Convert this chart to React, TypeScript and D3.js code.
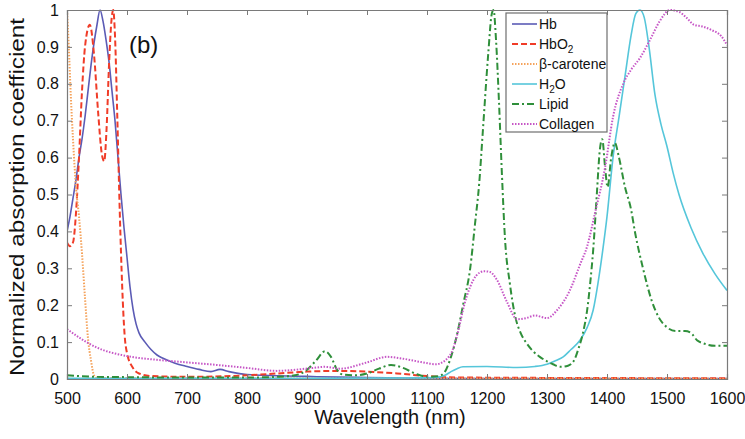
import React, { useRef, useEffect } from 'react';
import * as d3 from 'd3';

// [wavelength nm, normalized absorption]
const hb: [number, number][] = [
  [500, 0.40], [505, 0.44], [510, 0.49], [515, 0.54], [520, 0.60], [525, 0.65], [530, 0.71],
  [535, 0.78], [540, 0.85], [545, 0.91], [550, 0.96], [555, 1.0], [560, 0.97], [565, 0.92],
  [570, 0.86], [575, 0.78], [580, 0.70], [585, 0.60], [590, 0.50], [595, 0.41], [600, 0.33],
  [605, 0.25], [610, 0.19], [615, 0.15], [620, 0.125], [630, 0.10], [640, 0.08], [650, 0.065],
  [660, 0.056], [680, 0.043], [700, 0.034], [720, 0.026], [740, 0.02], [755, 0.026], [770, 0.02],
  [790, 0.014], [800, 0.012], [850, 0.009], [900, 0.007], [950, 0.005], [1000, 0.004],
  [1100, 0.002], [1200, 0.001], [1600, 0.001],
];

const hbo2: [number, number][] = [
  [500, 0.37], [505, 0.36], [510, 0.37], [515, 0.45], [520, 0.60], [525, 0.78], [530, 0.90],
  [538, 0.96], [545, 0.88], [552, 0.72], [558, 0.61], [562, 0.59], [566, 0.68], [570, 0.85],
  [574, 0.97], [577, 1.0], [580, 0.93], [584, 0.70], [588, 0.45], [592, 0.25], [596, 0.12],
  [600, 0.07], [610, 0.03], [620, 0.015], [640, 0.008], [700, 0.006], [800, 0.01], [850, 0.015],
  [900, 0.02], [950, 0.022], [1000, 0.02], [1050, 0.015], [1100, 0.008], [1150, 0.004],
  [1600, 0.002],
];

const carotene: [number, number][] = [
  [500, 1.0], [503, 0.9], [506, 0.78], [510, 0.65], [515, 0.52], [520, 0.44], [525, 0.34],
  [530, 0.22], [535, 0.11], [540, 0.05], [545, 0.01], [550, 0.003], [700, 0.002], [1600, 0.001],
];

const water: [number, number][] = [
  [500, 0.002], [900, 0.002], [1100, 0.003], [1120, 0.005], [1130, 0.01], [1140, 0.02],
  [1150, 0.028], [1160, 0.033], [1200, 0.034], [1250, 0.031], [1280, 0.034], [1300, 0.04],
  [1315, 0.05], [1327, 0.06], [1340, 0.08], [1355, 0.105], [1367, 0.14], [1377, 0.187],
  [1385, 0.26], [1393, 0.35], [1400, 0.44], [1410, 0.6], [1420, 0.71], [1430, 0.82],
  [1440, 0.93], [1448, 0.99], [1455, 1.0], [1462, 0.98], [1470, 0.9], [1480, 0.77], [1490, 0.69],
  [1500, 0.63], [1510, 0.56], [1520, 0.50], [1540, 0.41], [1560, 0.34], [1580, 0.285],
  [1600, 0.24],
];

const lipid: [number, number][] = [
  [500, 0.01], [550, 0.006], [600, 0.005], [700, 0.004], [800, 0.004], [850, 0.006],
  [880, 0.01], [900, 0.025], [915, 0.05], [930, 0.075], [940, 0.06], [950, 0.025], [960, 0.012],
  [980, 0.01], [1000, 0.015], [1020, 0.028], [1040, 0.038], [1060, 0.03], [1080, 0.015],
  [1100, 0.006], [1120, 0.008], [1130, 0.02], [1140, 0.06], [1150, 0.12], [1160, 0.2],
  [1172, 0.3], [1180, 0.42], [1187, 0.53], [1193, 0.67], [1202, 0.88], [1208, 0.99], [1211, 1.0],
  [1215, 0.92], [1220, 0.75], [1225, 0.55], [1230, 0.38], [1238, 0.26], [1247, 0.17],
  [1256, 0.125], [1266, 0.097], [1277, 0.075], [1288, 0.06], [1300, 0.048], [1310, 0.04],
  [1322, 0.033], [1335, 0.036], [1345, 0.05], [1352, 0.08], [1360, 0.125], [1368, 0.2],
  [1372, 0.26], [1377, 0.35], [1383, 0.5], [1388, 0.62], [1392, 0.65], [1397, 0.57],
  [1401, 0.52], [1407, 0.6], [1413, 0.64], [1420, 0.6], [1430, 0.52], [1440, 0.46],
  [1447, 0.395], [1460, 0.3], [1475, 0.21], [1487, 0.165], [1500, 0.14], [1515, 0.13],
  [1530, 0.13], [1540, 0.125], [1550, 0.105], [1560, 0.097], [1580, 0.09], [1600, 0.09],
];

const collagen: [number, number][] = [
  [500, 0.135], [550, 0.085], [600, 0.062], [650, 0.052], [700, 0.045], [750, 0.038],
  [800, 0.03], [850, 0.022], [880, 0.025], [910, 0.03], [930, 0.033], [955, 0.028],
  [1000, 0.045], [1033, 0.06], [1060, 0.055], [1090, 0.046], [1115, 0.04], [1130, 0.05],
  [1143, 0.08], [1152, 0.13], [1162, 0.2], [1172, 0.25], [1182, 0.28], [1195, 0.292],
  [1205, 0.29], [1216, 0.27], [1233, 0.21], [1250, 0.162], [1265, 0.165], [1280, 0.172],
  [1300, 0.165], [1317, 0.187], [1338, 0.24], [1355, 0.31], [1367, 0.36], [1380, 0.45],
  [1397, 0.575], [1410, 0.71], [1427, 0.8], [1441, 0.84], [1455, 0.87], [1472, 0.92],
  [1488, 0.97], [1505, 1.0], [1520, 0.995], [1532, 0.98], [1545, 0.96], [1560, 0.955],
  [1575, 0.945], [1590, 0.93], [1600, 0.905],
];

const xTicks = [500, 600, 700, 800, 900, 1000, 1100, 1200, 1300, 1400, 1500, 1600];
const yTicks = [0, 0.1, 0.2, 0.3, 0.4, 0.5, 0.6, 0.7, 0.8, 0.9, 1];

const series = [
  { name: 'Hb', data: hb, color: '#5b5bb5', width: 1.6, dash: null },
  { name: 'HbO2', data: hbo2, color: '#f03c28', width: 2, dash: '6,3' },
  { name: 'β-carotene', data: carotene, color: '#f5a35c', width: 2, dash: '1.5,1.5' },
  { name: 'H2O', data: water, color: '#55c6da', width: 1.6, dash: null },
  { name: 'Lipid', data: lipid, color: '#2f8f3a', width: 2, dash: '7,3,2,3' },
  { name: 'Collagen', data: collagen, color: '#c656c6', width: 2, dash: '1.5,1.5' },
];

const W = 745;
const H = 439;
const m = { left: 67, top: 10, right: 18, bottom: 60 };
const FONT = 'Arial, "Liberation Sans", sans-serif';

export default function App() {
  const axRef = useRef<SVGGElement>(null);

  const x = d3.scaleLinear().domain([500, 1600]).range([m.left, W - m.right]);
  const y = d3.scaleLinear().domain([0, 1]).range([H - m.bottom, m.top]);

  const line = d3.line<[number, number]>()
    .x(d => x(d[0]))
    .y(d => y(d[1]))
    .curve(d3.curveMonotoneX);

  useEffect(() => {
    const g = d3.select(axRef.current);
    g.selectAll('*').remove();

    const bottom = g.append('g')
      .attr('transform', `translate(0,${y(0)})`)
      .call(d3.axisBottom(x).tickValues(xTicks).tickSize(-5).tickPadding(14).tickFormat(d3.format('d')));
    const left = g.append('g')
      .attr('transform', `translate(${x(500)},0)`)
      .call(d3.axisLeft(y).tickValues(yTicks).tickSize(-5).tickPadding(8).tickFormat(d => String(+d)));
    g.append('g')
      .attr('transform', `translate(0,${y(1)})`)
      .call(d3.axisTop(x).tickValues(xTicks).tickSize(-5).tickFormat(() => ''));
    g.append('g')
      .attr('transform', `translate(${x(1600)},0)`)
      .call(d3.axisRight(y).tickValues(yTicks).tickSize(-5).tickFormat(() => ''));

    g.selectAll('.domain').attr('stroke', '#7a7a7a').attr('stroke-width', 1.2);
    g.selectAll('.tick line').attr('stroke', '#7a7a7a');
    [bottom, left].forEach(a => a.selectAll('text')
      .attr('font-family', FONT)
      .attr('font-size', 16)
      .attr('fill', '#111'));
  }, []);

  const legX = 506;
  const legY = 13;

  return (
    <svg width={W} height={H} style={{ position: 'absolute', left: 0, top: 0, background: '#fff' }}
      fontFamily={FONT}>
      <defs>
        <clipPath id="plot">
          <rect x={x(500)} y={y(1) - 2} width={x(1600) - x(500)} height={y(0) - y(1) + 2} />
        </clipPath>
      </defs>
      <rect x={0} y={0} width={W} height={H} fill="#fff" />
      <g clipPath="url(#plot)">
        {series.map(s => (
          <path key={s.name} d={line(s.data) || ''} fill="none" stroke={s.color}
            strokeWidth={s.width} strokeDasharray={s.dash || undefined} />
        ))}
      </g>
      <g ref={axRef} />
      <text x={129} y={53} fontSize={24} fill="#111">(b)</text>

      <g>
        <rect x={legX} y={legY} width={101} height={119} fill="#fff" stroke="#6e6e6e" strokeWidth={1.2} />
        {series.map((s, i) => {
          const cy = legY + 11 + i * 20;
          return (
            <g key={s.name}>
              <line x1={legX + 6} x2={legX + 31} y1={cy} y2={cy} stroke={s.color}
                strokeWidth={s.width} strokeDasharray={s.dash || undefined} />
              <text x={legX + 33} y={cy + 5} fontSize={14} fill="#111">
                {s.name === 'HbO2' ? (
                  <>HbO<tspan fontSize={10} dy={4}>2</tspan></>
                ) : s.name === 'H2O' ? (
                  <>H<tspan fontSize={10} dy={4}>2</tspan><tspan dy={-4}>O</tspan></>
                ) : s.name}
              </text>
            </g>
          );
        })}
      </g>

      <text x={390} y={424} fontSize={20} textAnchor="middle" fill="#111">Wavelength (nm)</text>
      <text transform={`translate(24,${197}) rotate(-90)`} fontSize={20} textAnchor="middle"
        fill="#111" textLength={358} lengthAdjust="spacingAndGlyphs">
        Normalized absorption coefficient
      </text>
    </svg>
  );
}
